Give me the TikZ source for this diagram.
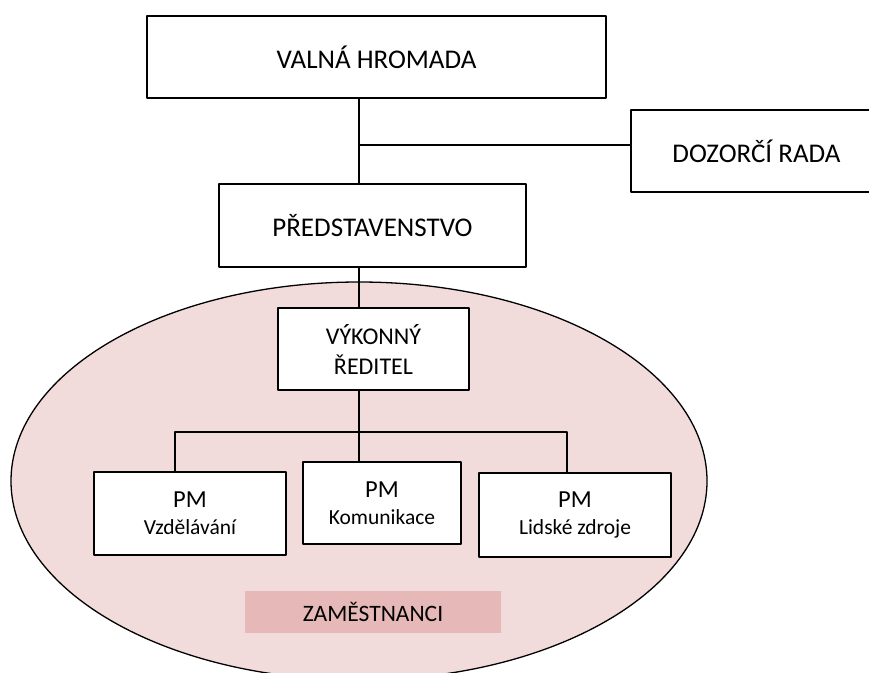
\documentclass[tikz,border=0pt]{standalone}
\usepackage{fontspec}
\setmainfont{Carlito}
\definecolor{ovalpink}{HTML}{F2DCDB}
\definecolor{staffpink}{HTML}{E6B8B7}
\begin{document}
\begin{tikzpicture}[x=1pt,y=-1pt,line join=round,
  box/.style={draw,fill=white,line width=1.6pt,inner sep=0pt,align=center},
  big/.style={font=\fontsize{27}{30}\selectfont},
  pm/.style={box,font=\fontsize{21.5}{27}\selectfont},
  link/.style={line width=1.3pt}]
\useasboundingbox (0,0) rectangle (869,672);
\clip (0,0) rectangle (869,672);
\filldraw[fill=ovalpink,line width=1.3pt](359,481) ellipse [x radius=348,y radius=199];
\node[fill=staffpink,inner sep=0pt,minimum width=256pt,minimum height=42pt,font=\fontsize{23.5}{28}\selectfont] (zm) at (373,612) {ZAMĚSTNANCI};
\node[box,big,minimum width=459pt,minimum height=82pt] (vh) at (376.5,57) {VALNÁ HROMADA};
\node[box,big,minimum width=251pt,minimum height=82pt] (dr) at (756.5,151) {DOZORČÍ RADA};
\node[box,big,minimum width=307pt,minimum height=83pt] (pr) at (372.5,225.5) {PŘEDSTAVENSTVO};
\node[box,font=\fontsize{24}{30}\selectfont,minimum width=191pt,minimum height=82pt] (vr) at (373.5,349) {VÝKONNÝ\\ŘEDITEL};
\node[pm,minimum width=192pt,minimum height=83pt] (pv) at (190,513.5) {{\fontsize{24.5}{27}\selectfont PM}\\Vzdělávání};
\node[pm,minimum width=158pt,minimum height=82pt] (pk) at (382,503) {{\fontsize{24.5}{27}\selectfont PM}\\Komunikace};
\node[pm,minimum width=192pt,minimum height=84pt] (pl) at (575,515) {{\fontsize{24.5}{27}\selectfont PM}\\Lidské zdroje};
\coordinate (trunk) at (359,0);
\coordinate (dz) at (359,145);
\coordinate (busl) at (175,432);
\coordinate (busr) at (567,432);
\draw[link](vh.south -| trunk)--(pr.north -| trunk);
\draw[link](dz)--(dz -| dr.west);
\draw[link](pr.south -| trunk)--(vr.north -| trunk);
\draw[link](vr.south -| trunk)--(pk.north -| trunk);
\draw[link](pv.north -| busl)|-(busr)--(busr |- pl.north);
\end{tikzpicture}
\end{document}
